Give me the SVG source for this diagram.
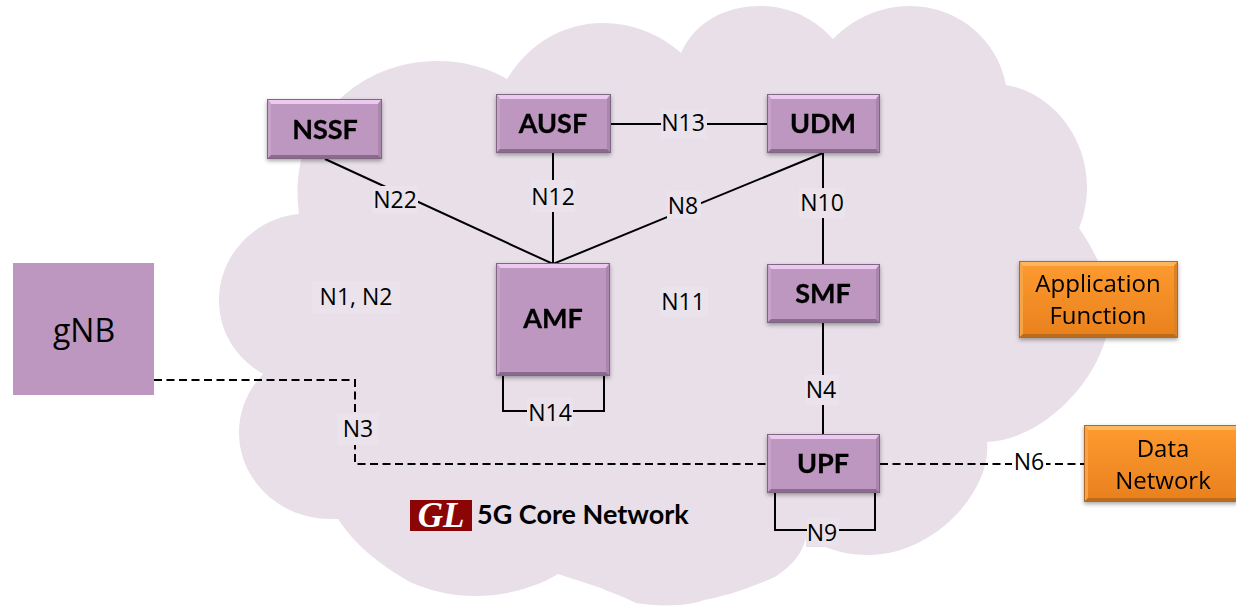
<svg xmlns="http://www.w3.org/2000/svg" width="1236" height="607" viewBox="0 0 1236 607">
<style>
text{font-family:"Open Sans","Noto Sans",sans-serif;fill:#000}
.l{font-size:23px;text-anchor:middle}
.b{font-size:27px;font-weight:700;text-anchor:middle;font-family:Lato,"Open Sans",sans-serif;stroke:#000;stroke-width:.3px}
.o{font-size:24px;text-anchor:middle}
.p{fill:#bd97c0;stroke:#7f6682;stroke-width:1}
.or{fill:url(#og);stroke:#b06a26;stroke-width:1}
.bg{fill:#eae3eb}
.s{fill:none;stroke:#000;stroke-width:2}
.d{fill:none;stroke:#000;stroke-width:2;stroke-dasharray:8 4.5}
.bt{fill:#ecc9ee}.bl{fill:#c7a3ca}.br{fill:#a987ac}.bb{fill:#8a6b8d}
.ot{fill:#fcb660}.ol{fill:#f6a446}.orr{fill:#dc8226}.ob{fill:#b96c1a}
.sh{filter:url(#ds)}
</style>
<defs>
<linearGradient id="og" x1="0" y1="0" x2="0" y2="1"><stop offset="0" stop-color="#fd9b30"/><stop offset="1" stop-color="#e9801d"/></linearGradient>
<filter id="ds" x="-10%" y="-10%" width="120%" height="125%"><feDropShadow dx="0" dy="2" stdDeviation="2" flood-color="#000" flood-opacity=".35"/></filter>
</defs>
<path id="cloud" fill="#e8dfe9" d="M299 214C293 170 305 125 340 99C365 75 400 61 437 61C465 61 488 68 507 79C530 42 565 23 603 23C632 23 660 34 681 53C695 22 725 6 760 6C790 6 815 19 833 39C855 17 882 6 910 6C958 6 998 40 1006 85C1050 92 1087 135 1087 187C1087 202 1084 216 1079 228C1100 258 1112 290 1109 320C1105 375 1045 440 987 442C992 490 935 555 868 555C852 555 838 552 825 547H806V538C800 560 785 570 775 577C750 588 725 596 704 600C690 606 660 607 636 603C622 596 610 592 598 587L558 574C535 588 505 596 475 596C450 596 428 590 410 582C380 565 355 545 338 519H330C280 519 239 480 239 433C239 410 248 390 263 374C236 358 219 332 219 300C219 255 255 218 299 214Z"/>
<g id="connectors">
<path class="s" d="M553 153V264M325 159L553 264L823 153M611 124H767M823 153V264M823 323V434M503 376V411H604V376M775 493V530H875V493"/>
<path class="d" d="M154 380H355V464H767M880 464H1084"/>
</g>
<g id="labels">
<rect class="bg" x="372" y="186" width="46" height="28"/><text class="l" x="395" y="208">N22</text>
<rect class="bg" x="531" y="180" width="44" height="32"/><text class="l" x="553" y="205">N12</text>
<rect class="bg" x="661" y="109" width="46" height="30"/><text class="l" x="683" y="131">N13</text>
<rect class="bg" x="667" y="191" width="34" height="28"/><text class="l" x="683" y="214">N8</text>
<rect class="bg" x="799" y="188" width="46" height="30"/><text class="l" x="822" y="211">N10</text>
<rect class="bg" x="312" y="281" width="88" height="32"/><text class="l" x="356" y="305">N1, N2</text>
<rect class="bg" x="660" y="287" width="48" height="30"/><text class="l" x="683" y="310">N11</text>
<rect class="bg" x="805" y="375" width="34" height="30"/><text class="l" x="821" y="398">N4</text>
<rect class="bg" x="337" y="413" width="42" height="32"/><text class="l" x="358" y="437">N3</text>
<rect class="bg" x="527" y="398" width="46" height="28"/><text class="l" x="550" y="421">N14</text>
<rect class="bg" x="807" y="518" width="32" height="28"/><text class="l" x="822" y="541">N9</text>
<rect fill="#fff" x="1012" y="449" width="34" height="28"/><text class="l" x="1029" y="470">N6</text>
</g>
<g id="gNB"><rect x="13" y="263" width="141" height="132" fill="#bd97c0"/><text x="84" y="342" font-size="32" text-anchor="middle">gNB</text></g>
<g id="NSSF" class="sh"><rect x="267.500" y="99.500" width="114" height="59" class="p"/><path class="bt" d="M268 100H381L378 104H271Z"/><path class="bl" d="M268 100L271 104V155L268 158Z"/><path class="br" d="M381 100L378 104V155L381 158Z"/><path class="bb" d="M268 158L271 155H378L381 158Z"/><text class="b" x="325" y="139">NSSF</text></g>
<g id="AUSF" class="sh"><rect x="496.500" y="94.500" width="114" height="58" class="p"/><path class="bt" d="M497 95H610L607 99H500Z"/><path class="bl" d="M497 95L500 99V149L497 152Z"/><path class="br" d="M610 95L607 99V149L610 152Z"/><path class="bb" d="M497 152L500 149H607L610 152Z"/><text class="b" x="553" y="133">AUSF</text></g>
<g id="UDM" class="sh"><rect x="767.500" y="94.500" width="112" height="58" class="p"/><path class="bt" d="M768 95H879L876 99H771Z"/><path class="bl" d="M768 95L771 99V149L768 152Z"/><path class="br" d="M879 95L876 99V149L879 152Z"/><path class="bb" d="M768 152L771 149H876L879 152Z"/><text class="b" x="823" y="133">UDM</text></g>
<g id="AMF" class="sh"><rect x="496.500" y="263.500" width="113" height="112" class="p"/><path class="bt" d="M497 264H609L606 268H500Z"/><path class="bl" d="M497 264L500 268V372L497 375Z"/><path class="br" d="M609 264L606 268V372L609 375Z"/><path class="bb" d="M497 375L500 372H606L609 375Z"/><text class="b" x="553" y="328">AMF</text></g>
<g id="SMF" class="sh"><rect x="767.500" y="264.500" width="112" height="58" class="p"/><path class="bt" d="M768 265H879L876 269H771Z"/><path class="bl" d="M768 265L771 269V319L768 322Z"/><path class="br" d="M879 265L876 269V319L879 322Z"/><path class="bb" d="M768 322L771 319H876L879 322Z"/><text class="b" x="823" y="303">SMF</text></g>
<g id="UPF" class="sh"><rect x="767.500" y="434.500" width="112" height="58" class="p"/><path class="bt" d="M768 435H879L876 439H771Z"/><path class="bl" d="M768 435L771 439V489L768 492Z"/><path class="br" d="M879 435L876 439V489L879 492Z"/><path class="bb" d="M768 492L771 489H876L879 492Z"/><text class="b" x="823" y="473">UPF</text></g>
<g id="ApplicationFunction" class="sh"><rect x="1019.500" y="261.500" width="158" height="76" class="or"/><path class="ot" d="M1020 262H1177L1174 266H1023Z"/><path class="ol" d="M1020 262L1023 266V334L1020 337Z"/><path class="orr" d="M1177 262L1174 266V334L1177 337Z"/><path class="ob" d="M1020 337L1023 334H1174L1177 337Z"/><text class="o" x="1098" y="292">Application</text><text class="o" x="1098" y="324">Function</text></g>
<g id="DataNetwork" class="sh"><rect x="1084.500" y="425.500" width="153" height="76" class="or"/><path class="ot" d="M1085 426H1236V430H1088Z"/><path class="ol" d="M1085 426L1088 430V498L1085 501Z"/><path class="ob" d="M1085 501L1088 498H1236V501Z"/><text class="o" x="1163" y="457">Data</text><text class="o" x="1163" y="489">Network</text></g>
<g id="brand"><rect x="410" y="500" width="62" height="31" fill="#8b0505"/><text x="441" y="527" font-size="35" font-weight="700" font-style="italic" text-anchor="middle" style="fill:#fff;font-family:'Liberation Serif',serif">GL</text><text x="477" y="524" font-size="27" font-weight="700" style="font-family:Lato,sans-serif">5G Core Network</text></g>
</svg>
